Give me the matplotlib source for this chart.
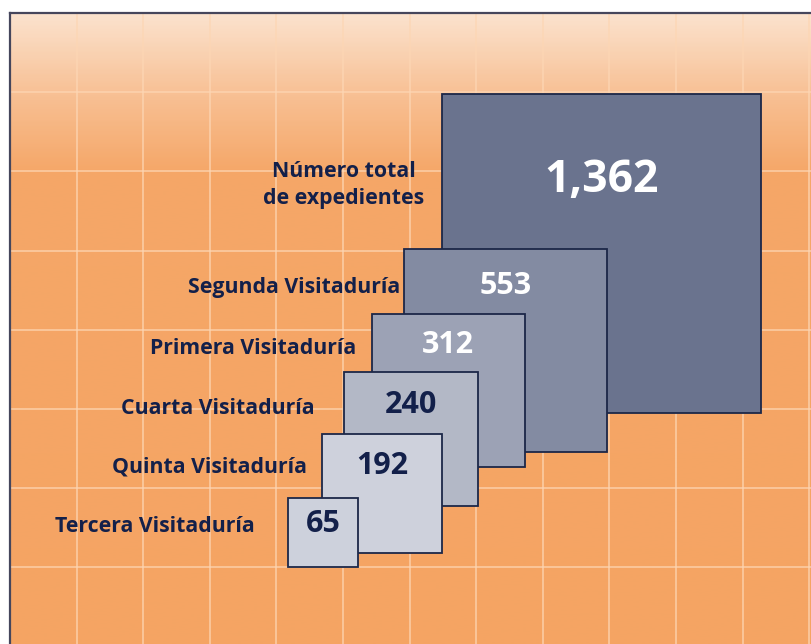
import numpy as np
import matplotlib
matplotlib.use("Agg")
import matplotlib.pyplot as plt
from matplotlib.patches import Rectangle
from matplotlib.colors import LinearSegmentedColormap

# ---- data ----
categories = ["Número total\nde expedientes", "Segunda Visitaduría", "Primera Visitaduría",
              "Cuarta Visitaduría", "Quinta Visitaduría", "Tercera Visitaduría"]
values = [1362, 553, 312, 240, 192, 65]
value_labels = ["1,362", "553", "312", "240", "192", "65"]

# ---- layout / style (pixel space of the figure) ----
W, H = 812, 644
scale = 8.64                         # px per sqrt(unit)
anchors = [(442.3, 413.3), (404.3, 451.7), (372.0, 466.8),
           (343.7, 505.6), (322.0, 553.3), (288.0, 567.3)]   # (left, bottom)
num_offsets = [86, 37, 31, 33, 32, 26]                     # text centre below top
label_pos = [(424, 185), (400, 287), (356, 348), (315, 408), (307, 467), (255, 526)]
face_colors = ["#6a738e", "#838ba2", "#9ca2b5", "#b3b8c6", "#ced1dc", "#cdd1dc"]
num_colors = ["white", "white", "white", "#13204a", "#13204a", "#13204a"]
num_sizes = [32, 22, 22, 22, 22, 22]
navy = "#13204a"
edge = "#1c2748"

plt.rcParams['font.family'] = ['Open Sans', 'DejaVu Sans']

fig = plt.figure(figsize=(W / 100, H / 100), dpi=100)
ax = fig.add_axes([0, 0, 1, 1])
ax.set_xlim(0, W)
ax.set_ylim(H, 0)
ax.axis("off")

# background gradient
x0, y0 = 10, 13
stops = [(0.0, (251/255, 226/255, 205/255)),
         (0.127, (248/255, 192/255, 148/255)),
         (0.25, (245/255, 167/255, 104/255)),
         (1.0, (245/255, 164/255, 99/255))]
cmap = LinearSegmentedColormap.from_list("bg", stops)
grad = np.linspace(0, 1, 400).reshape(-1, 1)
ax.imshow(grad, cmap=cmap, aspect="auto", extent=(x0, W, H, y0), zorder=0,
          interpolation="bilinear")

# grid
gx = 10 + 66.6 * np.arange(1, 13)
gy = 13 + 79.2 * np.arange(1, 8)
for x in gx:
    if x < W:
        ax.plot([x, x], [y0, H], color="#fdd6b4", lw=1.1, alpha=0.85, zorder=1)
for y in gy:
    if y < H:
        ax.plot([x0, W], [y, y], color="#fdd6b4", lw=1.1, alpha=0.85, zorder=1)

# frame
ax.plot([x0, x0], [H, y0], color="#45465c", lw=1.6, zorder=2, solid_capstyle="projecting")
ax.plot([x0, W], [y0, y0], color="#45465c", lw=1.6, zorder=2, solid_capstyle="projecting")

# squares
for i, v in enumerate(values):
    side = scale * np.sqrt(v)
    left, bottom = anchors[i]
    top = bottom - side
    ax.add_patch(Rectangle((left, top), side, side, facecolor=face_colors[i],
                           edgecolor=edge, lw=1.3, zorder=3 + i))
    ax.text(left + side / 2, top + num_offsets[i], value_labels[i], ha="center", va="center",
            fontsize=num_sizes[i], fontweight="bold", color=num_colors[i], zorder=10)
    lx, ly = label_pos[i]
    ax.text(lx, ly, categories[i], ha="right", va="center", multialignment="center",
            fontsize=15.3, fontweight="bold", color=navy, zorder=10, linespacing=1.32)

fig.savefig("out.png", dpi=100)
